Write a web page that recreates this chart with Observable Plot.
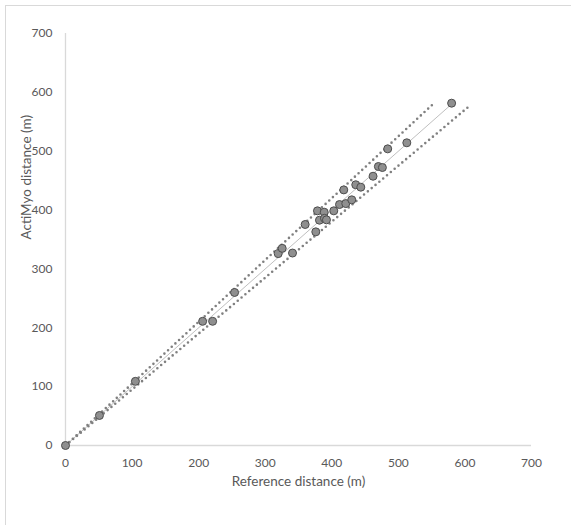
<!DOCTYPE html>
<html>
<head>
<meta charset="utf-8">
<script src="https://cdn.jsdelivr.net/npm/d3@7"></script>
<script src="https://cdn.jsdelivr.net/npm/@observablehq/plot@0.6"></script>
<style>
  html, body { margin: 0; padding: 0; background: #fff; }
  #wrap { position: relative; width: 571px; height: 525px; overflow: hidden; }
  #frame { position: absolute; left: 5px; top: 5px; width: 600px; height: 600px;
           border-left: 1px solid #d9d9d9; border-top: 1px solid #d9d9d9; pointer-events: none; }
  svg { font-family: Lato, "Open Sans", sans-serif; }
</style>
</head>
<body>
<div id="wrap"><div id="frame"></div></div>
<script>
// Measured points
const referenceDistance = [0, 51, 105, 206, 221, 254, 319.5, 325.5, 341, 360, 376, 378.5, 381.5, 388.6, 389, 392, 403, 411.6, 418, 421, 430, 436, 443.6, 462, 470, 476, 484, 512.7, 580];
const actimyoDistance   = [0, 51, 109, 211, 211, 260, 326, 335, 327, 375.5, 363, 398.7, 382.8, 396.4, 386, 383.4, 398.7, 409.4, 434.3, 411, 417.4, 443, 438.9, 457.5, 474, 472.3, 504, 514.3, 581.6];

// Reference lines (identity and +/- 5% bounds)
const identityX = [0, 580], identityY = [0, 580];
const upperX = [0, 553], upperY = [0, 581];
const lowerX = [0, 609], lowerY = [0, 579];

const ticks = [0, 100, 200, 300, 400, 500, 600, 700];
const xTitle = "Reference distance (m)";
const yTitle = "ActiMyo distance (m)";

const pts = referenceDistance.map((x, i) => ({x, y: actimyoDistance[i]}));
const line = (xs, ys) => xs.map((x, i) => ({x, y: ys[i]}));

const chart = Plot.plot({
  width: 571,
  height: 525,
  marginLeft: 65,
  marginRight: 40,
  marginTop: 33,
  marginBottom: 80,
  style: {background: "transparent", fontFamily: "Lato, 'Open Sans', sans-serif"},
  x: {domain: [0, 700]},
  y: {domain: [0, 700]},
  marks: [
    Plot.ruleY([0], {stroke: "#d9d9d9", strokeWidth: 1.3}),
    Plot.ruleX([0], {stroke: "#d9d9d9", strokeWidth: 1.3}),
    Plot.axisX({ticks, tickSize: 0, tickPadding: 13, fontSize: 12, color: "#595959", label: null}),
    Plot.axisY({ticks, tickSize: 0, tickPadding: 13, fontSize: 12, color: "#595959", label: null}),
    Plot.text([xTitle], {text: d => d, frameAnchor: "bottom", dy: 40, fontSize: 13.5, fill: "#595959"}),
    Plot.text([yTitle], {text: d => d, frameAnchor: "left", dx: -39, rotate: -90, fontSize: 13.5, fill: "#595959"}),
    Plot.line(line(identityX, identityY), {x: "x", y: "y", stroke: "#bfbfbf", strokeWidth: 1}),
    Plot.line(line(upperX, upperY), {x: "x", y: "y", stroke: "#808080", strokeWidth: 2.6,
      strokeDasharray: "0 5", strokeLinecap: "round"}),
    Plot.line(line(lowerX, lowerY), {x: "x", y: "y", stroke: "#808080", strokeWidth: 2.6,
      strokeDasharray: "0 5", strokeLinecap: "round"}),
    Plot.dot(pts, {x: "x", y: "y", r: 4, fill: "#8f8f8f", stroke: "#4d4d4d", strokeWidth: 1, fillOpacity: 1})
  ]
});
document.getElementById("wrap").appendChild(chart);
chart.style.position = "absolute";
chart.style.left = "0";
chart.style.top = "0";
</script>
</body>
</html>
